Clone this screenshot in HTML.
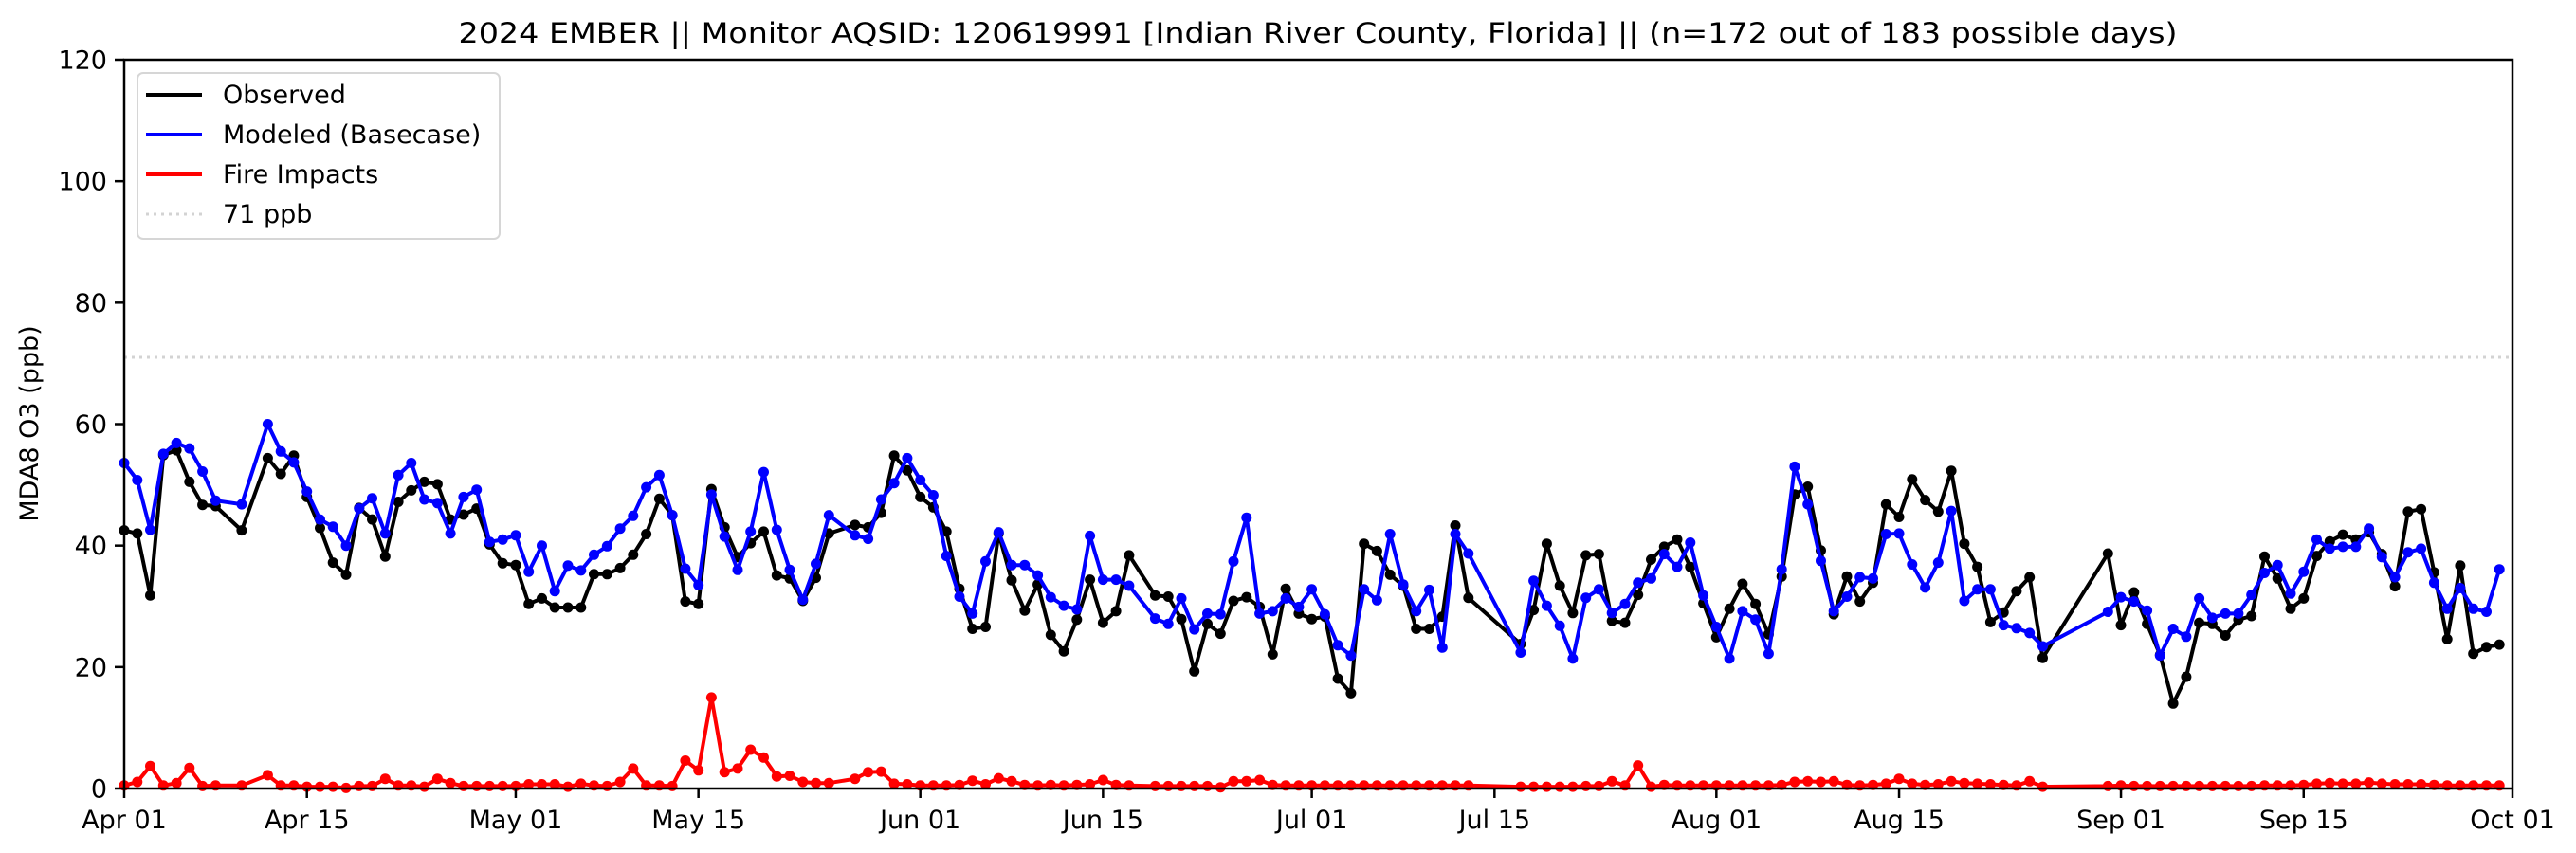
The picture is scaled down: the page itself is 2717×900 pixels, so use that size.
<!DOCTYPE html>
<html>
<head>
<meta charset="utf-8">
<style>
html,body{margin:0;padding:0;background:#fff;}
svg{display:block;font-family:"DejaVu Sans","Liberation Sans",sans-serif;}
</style>
</head>
<body>
<svg id="chart" width="2717" height="900" viewBox="0 0 2717 900" xmlns="http://www.w3.org/2000/svg">
  <rect x="0" y="0" width="2717" height="900" fill="#fff"/>
  <text x="1390" y="45" font-size="29" text-anchor="middle" textLength="1813" lengthAdjust="spacingAndGlyphs">2024 EMBER || Monitor AQSID: 120619991 [Indian River County, Florida] || (n=172 out of 183 possible days)</text>
  <text transform="translate(40,447) rotate(-90)" font-size="27" text-anchor="middle">MDA8 O3 (ppb)</text>
  <g id="grid-layer"></g>
  <g id="series-layer"></g>
  <g id="axes-layer"></g>
  <g id="legend">
    <rect x="145" y="77" width="382" height="175" rx="6" ry="6" fill="#fff" fill-opacity="0.85" stroke="#d6d6d6" stroke-width="2"/>
    <line x1="154" y1="100" x2="213" y2="100" stroke="#000" stroke-width="4"/>
    <text x="235" y="109" font-size="27">Observed</text>
    <line x1="154" y1="142" x2="213" y2="142" stroke="#0000ff" stroke-width="4"/>
    <text x="235" y="151" font-size="27">Modeled (Basecase)</text>
    <line x1="154" y1="184" x2="213" y2="184" stroke="#ff0000" stroke-width="4"/>
    <text x="235" y="193" font-size="27">Fire Impacts</text>
    <line x1="154" y1="226" x2="213" y2="226" stroke="#d3d3d3" stroke-width="3" stroke-dasharray="3,5"/>
    <text x="235" y="235" font-size="27">71 ppb</text>
  </g>
</svg>
<script>
// ---- data (day index 0 = Apr 01, 2024; null = missing day) ----
const observed = [
42.5,42,31.8,54.9,55.7,50.5,46.7,46.5,null,42.5,
null,54.4,51.8,54.8,48,42.9,37.2,35.2,46.2,44.3,
38.2,47.2,49.1,50.5,50.1,44.3,45.1,46.1,40.2,37.1,
36.8,30.4,31.3,29.8,29.8,29.8,35.3,35.3,36.3,38.5,
41.9,47.7,45,30.8,30.4,49.3,43,38.1,40.4,42.3,
35.1,34.6,30.9,34.7,42,null,43.4,43,45.4,54.8,
52.4,48,46.3,42.3,32.9,26.3,26.6,42,34.3,29.3,
33.6,25.3,22.6,27.8,34.4,27.3,29.2,38.4,null,31.8,
31.6,27.9,19.3,27.1,25.5,30.9,31.5,29.9,22.1,32.9,
28.8,27.9,28.3,18.1,15.7,40.3,39.1,35.2,33.4,26.3,
26.3,28.3,43.3,31.4,null,null,null,23.8,29.4,40.3,
33.4,28.9,38.4,38.6,27.6,27.3,31.9,37.7,39.8,41,
36.5,30.5,24.9,29.6,33.7,30.4,25.4,34.9,48.4,49.7,
39.2,28.7,34.9,30.8,33.9,46.8,44.7,50.9,47.5,45.6,
52.3,40.3,36.5,27.4,29,32.5,34.8,21.5,null,null,
null,null,38.7,26.9,32.3,27.1,22,14,18.4,27.3,
27.1,25.2,27.8,28.4,38.2,34.6,29.6,31.3,38.3,40.7,
41.8,41,42.2,38.6,33.3,45.6,46,35.6,24.6,36.7,
22.2,23.3,23.7];
const modeled = [
53.6,50.8,42.6,55.1,56.9,56,52.2,47.4,null,46.8,
null,60,55.5,53.7,48.9,44.3,43.1,40,46.1,47.8,
42,51.6,53.6,47.6,47,42,48,49.2,40.6,41,
41.7,35.7,40,32.5,36.7,35.9,38.5,39.9,42.8,44.9,
49.6,51.6,45,36.2,33.5,48.4,41.5,36,42.3,52.1,
42.6,36,31.1,37,45,null,41.7,41.1,47.6,50.3,
54.4,50.8,48.3,38.3,31.6,28.8,37.4,42.2,36.8,36.8,
35.1,31.5,30.1,29.5,41.6,34.4,34.4,33.4,null,28,
27.1,31.3,26.2,28.8,28.7,37.4,44.6,28.8,29.2,31.3,
29.9,32.8,28.7,23.6,21.9,32.8,31,41.9,33.6,29.2,
32.7,23.2,41.9,38.7,null,null,null,22.4,34.2,30.1,
26.8,21.4,31.4,32.8,28.9,30.4,33.9,34.6,38.6,36.5,
40.5,31.8,26.6,21.4,29.2,27.8,22.2,36.1,53,46.8,
37.5,29.2,31.6,34.8,34.6,41.9,42,36.9,33.1,37.2,
45.7,30.9,32.8,32.8,26.9,26.4,25.6,23.4,null,null,
null,null,29.1,31.5,30.8,29.3,21.9,26.3,25,31.3,
28.1,28.8,28.8,31.9,35.5,36.8,32.1,35.7,41,39.5,
39.8,39.8,42.8,38.1,34.8,38.9,39.5,33.9,29.6,33,
29.6,29.1,36.1];
const fireImpacts = [
0.5,1.1,3.7,0.5,0.9,3.4,0.4,0.5,null,0.5,
null,2.2,0.5,0.5,0.3,0.3,0.3,0.1,0.4,0.4,
1.6,0.5,0.5,0.3,1.6,0.9,0.4,0.4,0.4,0.4,
0.4,0.7,0.7,0.7,0.3,0.8,0.5,0.4,1.1,3.3,
0.5,0.5,0.4,4.6,3.0,15,2.7,3.3,6.4,5.1,
2.0,2.1,1.1,0.9,0.9,null,1.6,2.7,2.8,0.8,
0.7,0.5,0.5,0.5,0.6,1.3,0.7,1.7,1.2,0.6,
0.5,0.6,0.5,0.6,0.7,1.4,0.6,0.5,null,0.4,
0.4,0.4,0.4,0.4,0.2,1.2,1.2,1.4,0.6,0.5,
0.5,0.5,0.5,0.5,0.5,0.5,0.5,0.5,0.5,0.5,
0.5,0.5,0.5,0.5,null,null,null,0.3,0.3,0.3,
0.3,0.3,0.4,0.4,1.2,0.5,3.8,0.3,0.6,0.5,
0.5,0.5,0.5,0.5,0.5,0.5,0.5,0.6,1.1,1.2,
1.1,1.2,0.6,0.5,0.6,0.8,1.6,0.8,0.6,0.7,
1.2,0.9,0.8,0.7,0.6,0.5,1.2,0.3,null,null,
null,null,0.4,0.5,0.4,0.4,0.4,0.4,0.4,0.4,
0.4,0.4,0.4,0.4,0.5,0.5,0.5,0.6,0.8,0.9,
0.8,0.8,1.0,0.8,0.7,0.7,0.7,0.6,0.5,0.5,
0.5,0.5,0.5];
const thresholdValue = 71;
const xTickLabels = ["Apr 01","Apr 15","May 01","May 15","Jun 01","Jun 15","Jul 01","Jul 15","Aug 01","Aug 15","Sep 01","Sep 15","Oct 01"];
const xTickDays = [0,14,30,44,61,75,91,105,122,136,153,167,183];
const yTickValues = [0,20,40,60,80,100,120];

// ---- layout ----
const NS = "http://www.w3.org/2000/svg";
const PL = 131, PR = 2650, PT = 63, PB = 832;
const DAYS = 183, YMAX = 120;
function xScale(d){ return PL + d * (PR - PL) / DAYS; }
function yScale(v){ return PB - v * (PB - PT) / YMAX; }
function mk(tag, attrs, parent){
  const el = document.createElementNS(NS, tag);
  for (const k in attrs) el.setAttribute(k, attrs[k]);
  parent.appendChild(el);
  return el;
}

const grid = document.getElementById("grid-layer");
const thr = mk("line", {x1:PL, x2:PR, y1:yScale(thresholdValue), y2:yScale(thresholdValue), stroke:"#d3d3d3", "stroke-width":3, "stroke-dasharray":"3,5"}, grid);



const seriesLayer = document.getElementById("series-layer");
function drawSeries(values, color, name){
  const g = mk("g", {}, seriesLayer);
  
  
  const pts = [];
  values.forEach((v, i) => { if (v !== null) pts.push([xScale(i), yScale(v)]); });
  const line = mk("polyline", {points: pts.map(p => p[0].toFixed(1) + "," + p[1].toFixed(1)).join(" "), fill:"none", stroke:color, "stroke-width":4, "stroke-linejoin":"round"}, g);
  
  
  values.forEach((v, i) => {
    if (v === null) return;
    const c = mk("circle", {cx:xScale(i).toFixed(1), cy:yScale(v).toFixed(1), r:5.5, fill:color}, g);
    
    
  });
}
drawSeries(observed, "#000000", "observed");
drawSeries(modeled, "#0000ff", "modeled");
drawSeries(fireImpacts, "#ff0000", "fire-impacts");

// ---- axes ----
const axes = document.getElementById("axes-layer");
const frame = mk("rect", {x:PL, y:PT, width:PR-PL, height:PB-PT, fill:"none", stroke:"#000", "stroke-width":2.5}, axes);


yTickValues.forEach(v => {
  const t = mk("line", {x1:PL-10, x2:PL, y1:yScale(v), y2:yScale(v), stroke:"#000", "stroke-width":2.5}, axes);
  
  
  const lb = mk("text", {x:PL-18, y:yScale(v)+9.5, "font-size":27, "text-anchor":"end"}, axes);
  lb.textContent = String(v);
  
  
});
xTickDays.forEach((d, i) => {
  const t = mk("line", {x1:xScale(d), x2:xScale(d), y1:PB, y2:PB+10, stroke:"#000", "stroke-width":2.5}, axes);
  
  
  const lb = mk("text", {x:xScale(d), y:874, "font-size":27, "text-anchor":"middle"}, axes);
  lb.textContent = xTickLabels[i];
  
  
});
</script>
</body>
</html>
